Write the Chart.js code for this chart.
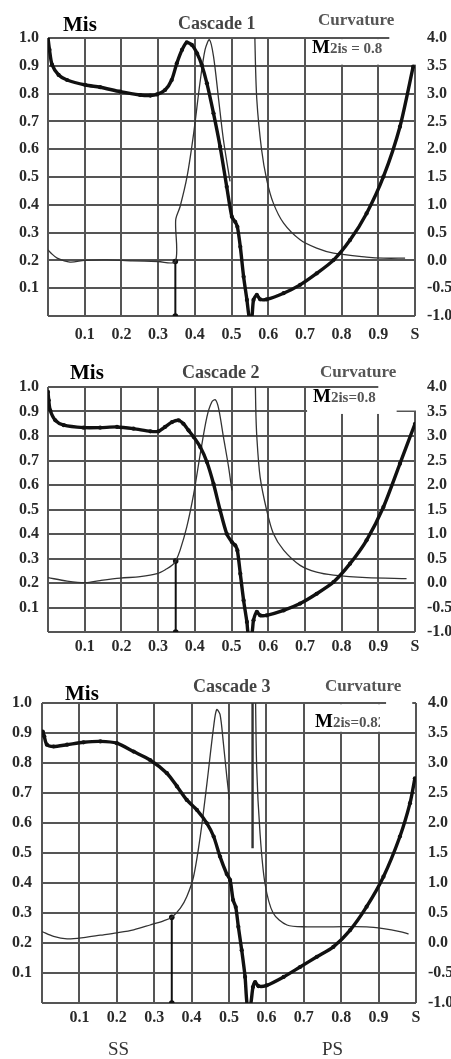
<!DOCTYPE html>
<html>
<head>
<meta charset="utf-8">
<script src="https://cdn.jsdelivr.net/npm/chart.js@4.4.1/dist/chart.umd.min.js"></script>
<style>
  html,body{margin:0;padding:0;background:#fff;}
  #wrap{position:relative;width:451px;height:1059px;overflow:hidden;background:#fff;}
  canvas{position:absolute;left:0;}
  .t{position:absolute;font-family:"Liberation Serif","Times New Roman",serif;font-weight:bold;line-height:1;white-space:nowrap;}
  .r{position:absolute;font-family:"Liberation Serif","Times New Roman",serif;line-height:1;white-space:nowrap;color:#333;}
</style>
</head>
<body>
<div id="wrap">
  <canvas id="c1" width="451" height="350" style="top:0px"></canvas>
  <canvas id="c2" width="451" height="310" style="top:350px"></canvas>
  <canvas id="c3" width="451" height="399" style="top:660px"></canvas>

  <div class="t" style="left:63px;top:14px;font-size:21px;color:#000">Mis</div>
  <div class="t" style="left:178px;top:14px;font-size:18px;color:#444">Cascade 1</div>
  <div class="t" style="left:318px;top:11px;font-size:17px;color:#555">Curvature</div>
  <div class="t" style="left:312px;top:37px;font-size:19px;color:#000">M<span style="font-size:15px;color:#555">2is = 0.8</span></div>

  <div class="t" style="left:70px;top:362px;font-size:21px;color:#000">Mis</div>
  <div class="t" style="left:182px;top:363px;font-size:18px;color:#444">Cascade 2</div>
  <div class="t" style="left:320px;top:363px;font-size:17px;color:#555">Curvature</div>
  <div class="t" style="left:313px;top:386px;font-size:19px;color:#000">M<span style="font-size:15px;color:#555">2is=0.8</span></div>

  <div class="t" style="left:65px;top:683px;font-size:21px;color:#000">Mis</div>
  <div class="t" style="left:193px;top:677px;font-size:18px;color:#444">Cascade 3</div>
  <div class="t" style="left:325px;top:677px;font-size:17px;color:#555">Curvature</div>
  <div class="t" style="left:315px;top:711px;font-size:19px;color:#000">M<span style="font-size:15px;color:#555;display:inline-block;width:47px;overflow:hidden;vertical-align:bottom">2is=0.82</span></div>

  <div class="r" style="left:108px;top:1039px;font-size:19px">SS</div>
  <div class="r" style="left:322px;top:1039px;font-size:19px">PS</div>
</div>
<script>
// ---------- Cascade 1 ----------
const misS1 = [0,0.004,0.011,0.029,0.052,0.102,0.142,0.197,0.251,0.279,0.297,0.319,0.337,0.351,0.365,0.378,0.392,0.406,0.419,0.433,0.451,0.469,0.487,0.501,0.510,0.516,0.524,0.533,0.542,0.549,0.555,0.560,0.569,0.578,0.596,0.642,0.687,0.732,0.778,0.823,0.868,0.914,0.959,0.995];
const misV1 = [1.0,0.958,0.904,0.867,0.849,0.831,0.823,0.807,0.795,0.793,0.797,0.813,0.849,0.909,0.957,0.984,0.975,0.945,0.903,0.837,0.729,0.609,0.465,0.357,0.339,0.321,0.249,0.141,0.058,-0.01,-0.01,0.058,0.076,0.06,0.06,0.082,0.112,0.153,0.201,0.273,0.369,0.501,0.681,0.897];
const curS1 = [0,0.01,0.025,0.06,0.10,0.16,0.23,0.30,0.347,0.348,0.36,0.379,0.397,0.414,0.428,0.440,0.451,0.465,0.478,0.496,0.53,0.563,0.564,0.569,0.582,0.596,0.614,0.642,0.687,0.732,0.778,0.868,0.914,0.973];
const curV1 = [0.19,0.12,0.04,-0.03,0.0,0.01,-0.01,-0.02,-0.02,0.73,0.97,1.51,2.29,3.19,3.79,3.97,3.67,2.89,2.17,1.42,null,4.6,3.9,2.89,1.99,1.45,1.03,0.67,0.37,0.22,0.13,0.06,0.04,0.04];
const markS1 = [0.347,0.347];
const markV1 = [-1.0,-0.02];

// ---------- Cascade 2 ----------
const misS2 = [0,0.002,0.006,0.020,0.043,0.097,0.142,0.188,0.233,0.279,0.301,0.319,0.338,0.356,0.369,0.383,0.397,0.415,0.433,0.451,0.469,0.487,0.501,0.510,0.516,0.524,0.533,0.542,0.546,0.555,0.560,0.569,0.578,0.596,0.642,0.687,0.732,0.778,0.823,0.868,0.914,0.959,1.0];
const misV2 = [0.98,0.946,0.905,0.864,0.844,0.834,0.834,0.837,0.83,0.819,0.819,0.837,0.857,0.864,0.85,0.823,0.796,0.755,0.694,0.605,0.497,0.401,0.367,0.354,0.333,0.238,0.129,0.041,-0.01,-0.01,0.048,0.082,0.068,0.068,0.088,0.116,0.156,0.204,0.279,0.374,0.51,0.687,0.85];
const curS2 = [0,0.052,0.102,0.142,0.197,0.251,0.297,0.324,0.338,0.348,0.360,0.378,0.397,0.415,0.433,0.446,0.456,0.465,0.478,0.492,0.501,0.53,0.564,0.566,0.569,0.578,0.596,0.614,0.642,0.687,0.732,0.778,0.868,0.977];
const curV2 = [0.11,0.04,0.007,0.05,0.10,0.13,0.19,0.29,0.36,0.45,0.67,1.14,1.82,2.64,3.39,3.69,3.74,3.56,2.98,2.37,1.89,null,4.6,3.6,2.98,2.16,1.48,1.01,0.67,0.36,0.22,0.16,0.11,0.09];
const markS2 = [0.348,0.348];
const markV2 = [-1.0,0.45];

// ---------- Cascade 3 ----------
const misS3 = [0.002,0.006,0.013,0.031,0.067,0.111,0.156,0.2,0.245,0.289,0.334,0.361,0.387,0.414,0.441,0.459,0.476,0.494,0.503,0.511,0.518,0.525,0.534,0.543,0.549,0.557,0.564,0.57,0.579,0.601,0.646,0.69,0.735,0.779,0.824,0.868,0.913,0.957,0.984,0.997];
const misV3 = [0.905,0.889,0.861,0.855,0.861,0.869,0.872,0.866,0.838,0.81,0.766,0.722,0.677,0.644,0.599,0.555,0.488,0.43,0.41,0.343,0.32,0.254,0.176,0.087,-0.01,-0.01,0.053,0.07,0.056,0.059,0.087,0.12,0.154,0.187,0.243,0.321,0.421,0.555,0.666,0.749];
const curS3 = [0,0.031,0.067,0.111,0.156,0.2,0.245,0.289,0.325,0.347,0.37,0.387,0.405,0.423,0.441,0.459,0.467,0.476,0.485,0.494,0.501,0.53,0.570,0.574,0.583,0.596,0.618,0.655,0.709,0.779,0.868,0.913,0.957,0.98];
const curV3 = [0.19,0.11,0.07,0.09,0.13,0.17,0.22,0.30,0.37,0.43,0.58,0.77,1.10,1.77,2.66,3.61,3.89,3.81,3.33,2.78,2.39,null,4.6,2.93,1.83,1.0,0.5,0.3,0.27,0.27,0.27,0.24,0.19,0.15];
const markS3 = [0.347,0.347];
const markV3 = [-1.0,0.43];
const spikeS3 = [0.563,0.563];
const spikeV3 = [4.6,1.58];

// tick values
const xTicks = [0.1,0.2,0.3,0.4,0.5,0.6,0.7,0.8,0.9];
const xEndLabel = 'S';

const pts = (xs, ys) => xs.map((x,i)=>({x:x, y:ys[i]}));
const FONT = {family:'"Liberation Serif","Times New Roman",serif', weight:'bold', size:16};
const GRID = '#555';

const whiteBoxes = {
  id:'whiteBoxes',
  beforeDatasetsDraw(chart, args, opts){
    const {ctx, scales} = chart;
    ctx.save();
    ctx.fillStyle = '#fff';
    (opts.rects||[]).forEach(r=>{
      const x0 = scales.x.getPixelForValue(r[0]), x1 = scales.x.getPixelForValue(r[1]);
      const y0 = scales.y.getPixelForValue(r[2]), y1 = scales.y.getPixelForValue(r[3]);
      ctx.fillRect(Math.min(x0,x1), Math.min(y0,y1), Math.abs(x1-x0), Math.abs(y1-y0));
    });
    ctx.restore();
  }
};

function make(id, cfg){
  const H = cfg.H;
  new Chart(document.getElementById(id), {
    type:'line',
    data:{ datasets:[
      {data:pts(cfg.curS,cfg.curV), yAxisID:'y2', borderColor:'#333', borderWidth:1.3, pointRadius:0, tension:0.3, spanGaps:false, order:2},
      {data:pts(cfg.markS,cfg.markV), yAxisID:'y2', borderColor:'#111', borderWidth:2, pointRadius:2.8, pointBackgroundColor:'#111', pointBorderWidth:0, tension:0, order:3},
      ...(cfg.spikeS ? [{data:pts(cfg.spikeS,cfg.spikeV), yAxisID:'y2', borderColor:'#333', borderWidth:2.4, pointRadius:0, tension:0, order:3}] : []),
      {data:pts(cfg.misS,cfg.misV), yAxisID:'y', borderColor:'#111', borderWidth:3.4, pointRadius:2.1, pointBackgroundColor:'#111', pointBorderWidth:0, tension:0.25, order:1}
    ]},
    options:{
      responsive:false, animation:false, devicePixelRatio:1,
      layout:{padding:{top:cfg.top, left:0, right:0, bottom:0}},
      plugins:{legend:{display:false}, tooltip:{enabled:false}, whiteBoxes:{rects:cfg.rects}},
      scales:{
        x:{type:'linear', min:0, max:1,
           afterBuildTicks: s => { s.ticks = [0].concat(xTicks).concat([1]).map(v=>({value:v})); },
           ticks:{font:FONT, color:'#2a2a2a', padding:cfg.xPad, maxRotation:0, autoSkip:false,
                  callback:v => v===0 ? '' : (v===1 ? xEndLabel : v.toFixed(1))},
           grid:{color:GRID, lineWidth:2, drawTicks:false},
           border:{display:false},
           afterFit: s => { s.height = H - cfg.bottom; }},
        y:{position:'left', min:0, max:1,
           ticks:{stepSize:0.1, font:FONT, color:'#2a2a2a', padding:cfg.yPad,
                  callback:v => Math.abs(v)<1e-9 ? '' : v.toFixed(1)},
           grid:{color:GRID, lineWidth:2, drawTicks:false},
           border:{display:false},
           afterFit: s => { s.width = cfg.left; }},
        y2:{position:'right', min:-1, max:4,
           ticks:{stepSize:0.5, font:FONT, color:'#2a2a2a', padding:12,
                  callback:v => v.toFixed(1)},
           grid:{display:false, drawTicks:false},
           border:{display:false},
           afterFit: s => { s.width = 451 - cfg.right; }}
      }
    },
    plugins:[whiteBoxes]
  });
}

make('c1', {H:350, top:38, bottom:316, left:48, right:415, xPad:9, yPad:9,
  misS:misS1, misV:misV1, curS:curS1, curV:curV1, markS:markS1, markV:markV1,
  rects:[[0.706,1.03,0.996,0.904],[0.93,1.03,1.01,0.99]]});
make('c2', {H:310, top:37, bottom:282, left:48, right:415, xPad:5, yPad:9,
  misS:misS2, misV:misV2, curS:curS2, curV:curV2, markS:markS2, markV:markV2,
  rects:[[0.706,1.03,0.996,0.904],[0.706,0.95,0.91,0.89],[0.9,1.03,1.01,0.99]]});
make('c3', {H:399, top:43, bottom:343, left:42, right:416, xPad:5, yPad:10,
  misS:misS3, misV:misV3, curS:curS3, curV:curV3, markS:markS3, markV:markV3,
  spikeS:spikeS3, spikeV:spikeV3,
  rects:[[0.706,0.99,0.996,0.904],[0.92,0.99,1.01,0.99]]});
</script>
</body>
</html>
